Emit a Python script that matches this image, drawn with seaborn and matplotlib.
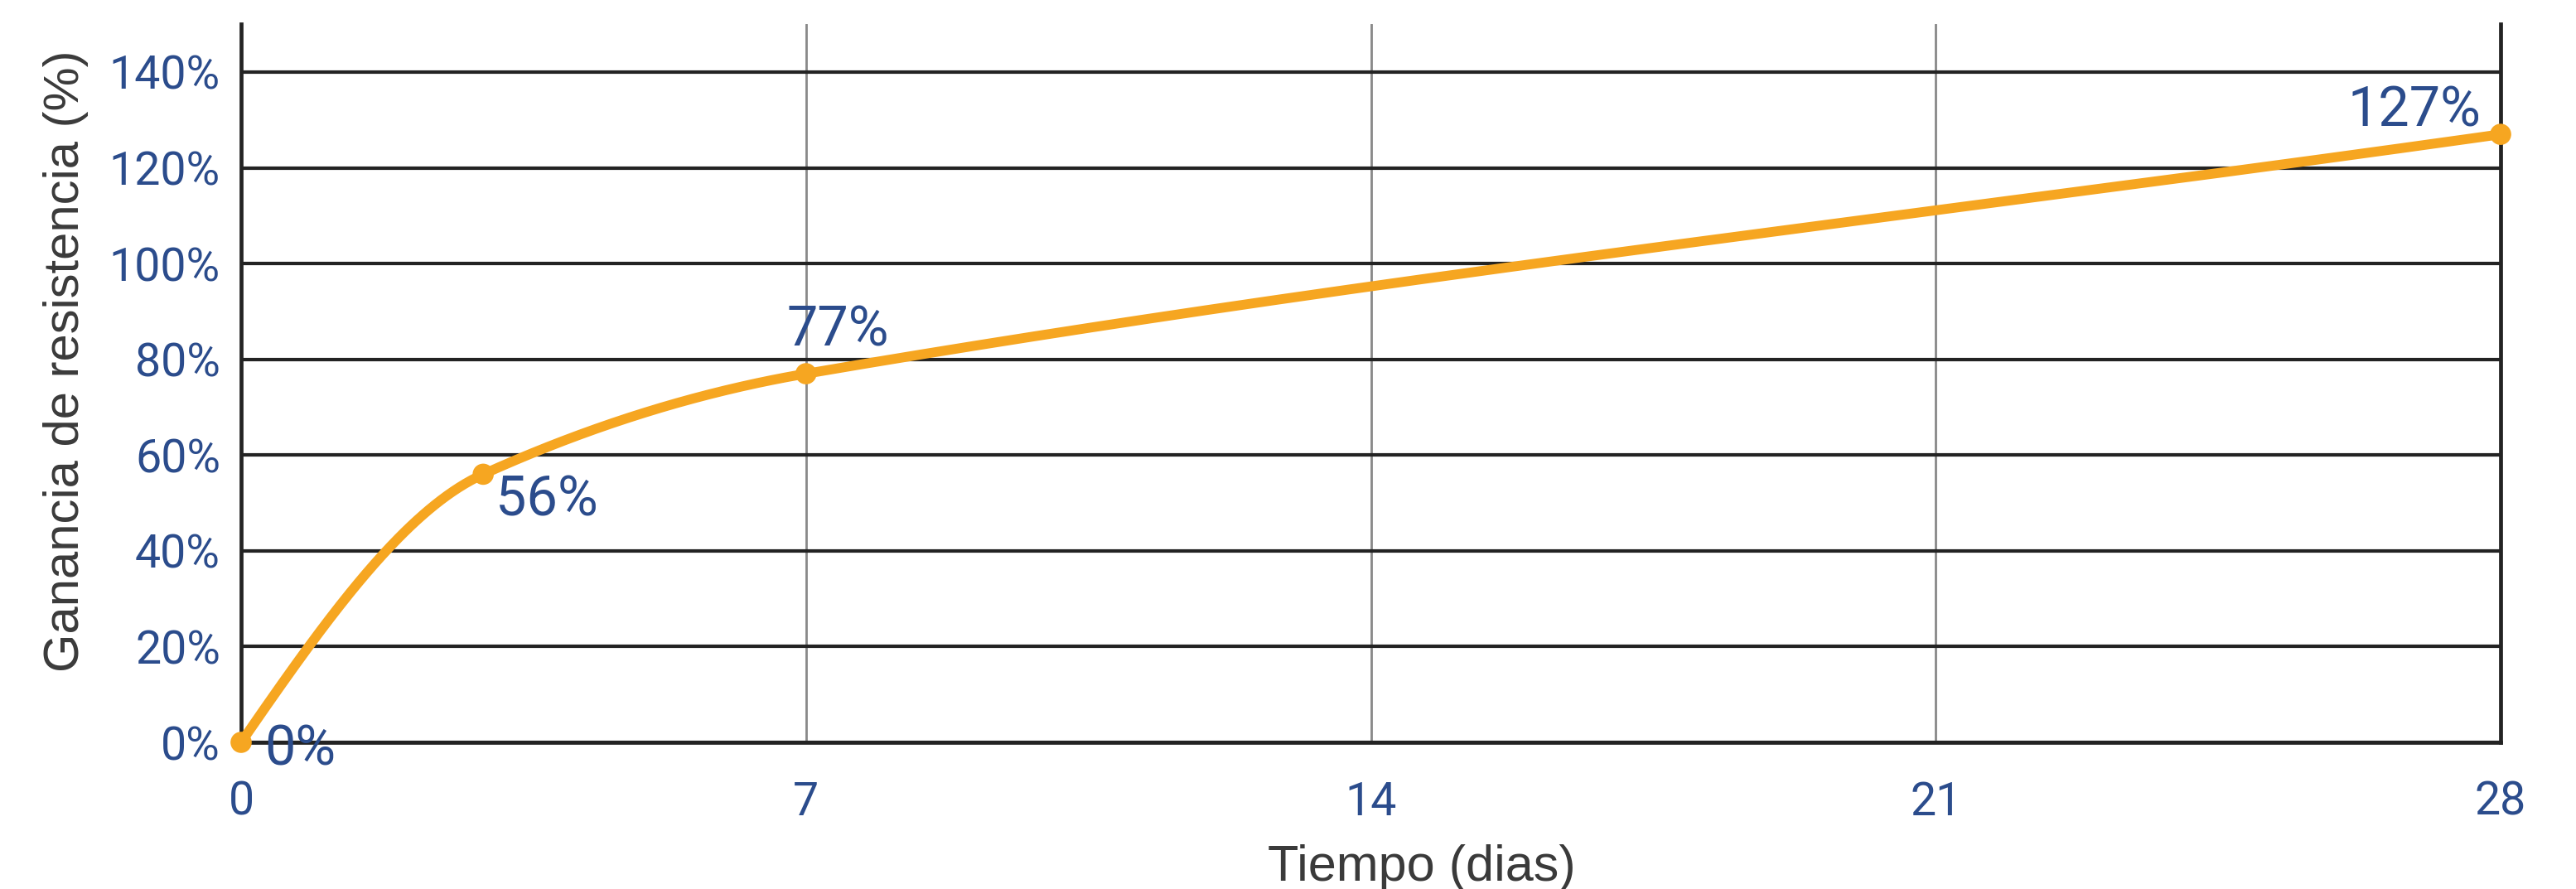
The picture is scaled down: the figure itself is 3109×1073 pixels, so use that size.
import numpy as np
import pandas as pd
import matplotlib
matplotlib.use("Agg")
import matplotlib.pyplot as plt
import seaborn as sns

# Strength gain over curing time
dias = [0, 3, 7, 28]
ganancia = [0, 56, 77, 127]
x_ticks = [0, 7, 14, 21, 28]
y_ticks = [0, 20, 40, 60, 80, 100, 120, 140]
y_tick_labels = [f"{v}%" for v in y_ticks]

ORANGE = "#F6A621"
NAVY = "#2B4C8C"
LABEL_GREY = "#3a3a3a"


def curve_slopes(x, y):
    """Akima tangents inside; three-point estimate at the start, secant at the end."""
    x = np.asarray(x, float)
    y = np.asarray(y, float)
    h = np.diff(x)
    s = np.diff(y) / h
    n = len(s)
    ext = np.empty(n + 4)
    ext[2:n + 2] = s
    ext[1] = 2 * ext[2] - ext[3]
    ext[0] = 2 * ext[1] - ext[2]
    ext[n + 2] = 2 * ext[n + 1] - ext[n]
    ext[n + 3] = 2 * ext[n + 2] - ext[n + 1]
    m = np.empty(len(x))
    for i in range(len(x)):
        a = abs(ext[i + 3] - ext[i + 2])
        b = abs(ext[i + 1] - ext[i])
        if a + b == 0:
            m[i] = 0.5 * (ext[i + 1] + ext[i + 2])
        else:
            m[i] = (a * ext[i + 1] + b * ext[i + 2]) / (a + b)
    m[0] = ((2 * h[0] + h[1]) * s[0] - h[0] * s[1]) / (h[0] + h[1])
    m[-1] = s[-1]
    return m


def smooth_curve(x, y, per_seg=120):
    x = np.asarray(x, float)
    y = np.asarray(y, float)
    m = curve_slopes(x, y)
    xs, ys = [], []
    for i in range(len(x) - 1):
        h = x[i + 1] - x[i]
        t = np.linspace(0, 1, per_seg, endpoint=(i == len(x) - 2))
        h00 = 2 * t**3 - 3 * t**2 + 1
        h10 = t**3 - 2 * t**2 + t
        h01 = -2 * t**3 + 3 * t**2
        h11 = t**3 - t**2
        xs.append(x[i] + t * h)
        ys.append(h00 * y[i] + h10 * h * m[i] + h01 * y[i + 1] + h11 * h * m[i + 1])
    return np.concatenate(xs), np.concatenate(ys)


pts = pd.DataFrame({"dias": dias, "ganancia": ganancia})
cx, cy = smooth_curve(dias, ganancia)
curve = pd.DataFrame({"dias": cx, "ganancia": cy})

sns.set_theme(style="white")
plt.rcParams["font.family"] = ["Roboto", "DejaVu Sans"]

W, H = 3109, 1073
fig = plt.figure(figsize=(W / 100, H / 100), dpi=100)
x0, x1 = 291, 3018
y_bottom = 896
px_per_pct = (896 - 87) / 140
y_top = y_bottom - 150 * px_per_pct
ax = fig.add_axes([x0 / W, 1 - y_bottom / H, (x1 - x0) / W, (y_bottom - y_top) / H])

ax.set_xlim(0, 28)
ax.set_ylim(0, 150)

# grid: dark horizontal rules, light vertical ones
ax.set_axisbelow(True)
ax.yaxis.grid(True, color="#232323", linewidth=3.0)
ax.xaxis.grid(True, color="#888888", linewidth=2.0)

sns.lineplot(data=curve, x="dias", y="ganancia", ax=ax, color=ORANGE,
             linewidth=8.5, solid_capstyle="round", zorder=3)
sns.scatterplot(data=pts, x="dias", y="ganancia", ax=ax, color=ORANGE,
                s=340, edgecolor="none", zorder=4, clip_on=False)

# value labels next to each measured point
label_style = [
    dict(xytext=(20, -19.5), ha="left"),
    dict(xytext=(11, -36), ha="left"),
    dict(xytext=(-16.5, 24.5), ha="left"),
    dict(xytext=(-17, 7), ha="right"),
]
for xv, yv, st in zip(dias, ganancia, label_style):
    ax.annotate(f"{yv}%", xy=(xv, yv), textcoords="offset points",
                va="baseline", fontsize=48, color=NAVY, zorder=5,
                annotation_clip=False, **st)

ax.set_xticks(x_ticks)
ax.set_xticklabels([str(v) for v in x_ticks])
ax.set_yticks(y_ticks)
ax.set_yticklabels(y_tick_labels)
ax.tick_params(axis="x", length=0, pad=33, labelsize=40, labelcolor=NAVY)
ax.tick_params(axis="y", length=0, pad=18, labelsize=40, labelcolor=NAVY)

for side in ("left", "right", "bottom"):
    ax.spines[side].set_visible(True)
    ax.spines[side].set_color("#232323")
    ax.spines[side].set_linewidth(3.4)
ax.spines["top"].set_visible(False)

ax.set_xlabel("Tiempo (dias)", fontsize=44, color=LABEL_GREY,
              family=["Liberation Sans", "DejaVu Sans"])
ax.set_ylabel("Ganancia de resistencia (%)", fontsize=43, color=LABEL_GREY,
              family=["Liberation Sans", "DejaVu Sans"])
ax.xaxis.set_label_coords(0.5225, -0.142)
ax.yaxis.label.set_va("center")
ax.yaxis.set_label_coords(-0.0777, 0.531)

fig.savefig("out.png", dpi=100, facecolor="white")
